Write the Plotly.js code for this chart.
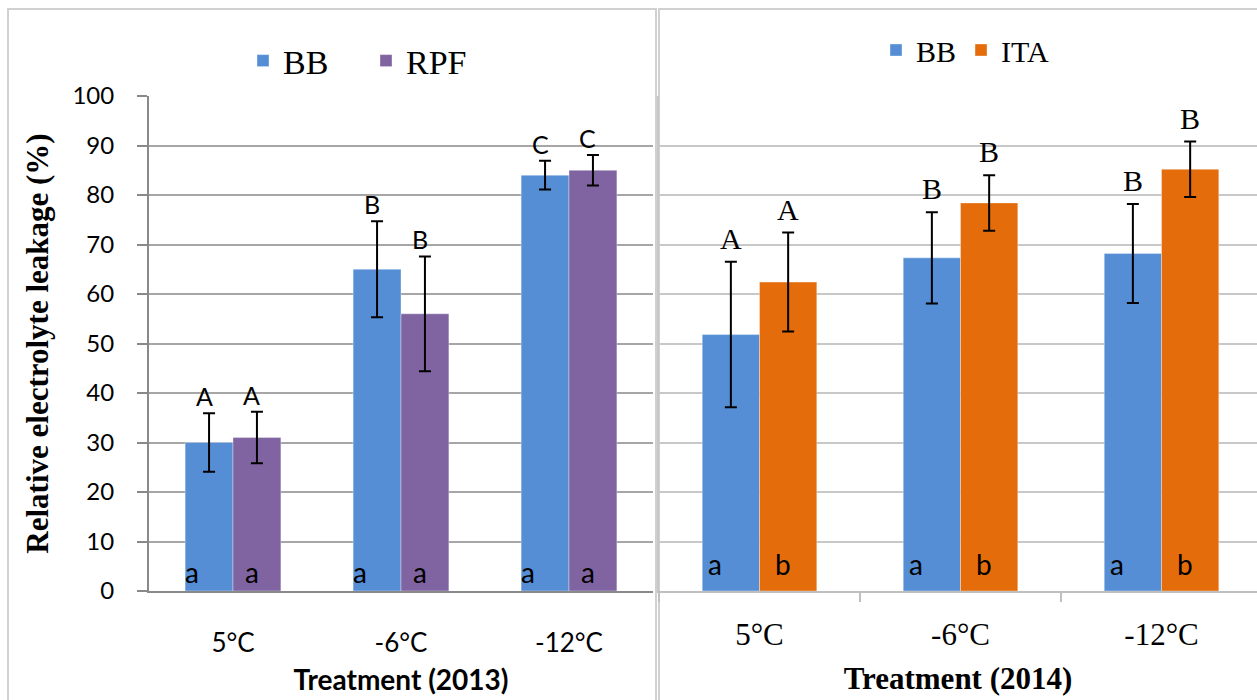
<!DOCTYPE html>
<html><head><meta charset="utf-8">
<script src="https://cdn.plot.ly/plotly-3.0.1.min.js"></script>
<style>html,body{margin:0;padding:0;background:#fff}#chart{width:1257px;height:700px}</style>
</head><body><div id="chart"></div>
<script>
// ---- data ----
const treatments = ['5°C', '-6°C', '-12°C'];
const bb2013 = [30.0, 65.0, 84.0];
const bb2013Err = [5.9, 9.7, 2.9];
const rpf2013 = [31.0, 56.0, 85.0];
const rpf2013Err = [5.2, 11.6, 3.1];
const bb2014 = [51.8, 67.3, 68.2];
const bb2014Err = [14.7, 9.2, 10.0];
const ita2014 = [62.4, 78.4, 85.2];
const ita2014Err = [10.0, 5.6, 5.6];
const upper2013BB = ['A', 'B', 'C'];
const upper2013RPF = ['A', 'B', 'C'];
const lower2013BB = ['a', 'a', 'a'];
const lower2013RPF = ['a', 'a', 'a'];
const upper2014BB = ['A', 'B', 'B'];
const upper2014ITA = ['A', 'B', 'B'];
const lower2014BB = ['a', 'a', 'a'];
const lower2014ITA = ['b', 'b', 'b'];

// ---- styles ----
const W = 1257, H = 700;
const BLUE = '#558ED5', PURPLE = '#8064A2', ORANGE = '#E46C0A';
const SANS = 'Lato, "Open Sans", sans-serif';
const SERIF = '"Liberation Serif", "Times New Roman", serif';
const BARGAP = 0.43;
const OFF = (1 - BARGAP) / 4;

function errStyle(arr) {
  return {type: 'data', array: arr, visible: true, color: '#000', thickness: 2, width: 6};
}
const lineBar = {color: 'rgba(255,255,255,0.35)', width: 1};

const traces = [
  {type: 'bar', name: 'BB', x: treatments, y: bb2013, error_y: errStyle(bb2013Err),
   marker: {color: BLUE, line: lineBar}, xaxis: 'x', yaxis: 'y', legend: 'legend'},
  {type: 'bar', name: 'RPF', x: treatments, y: rpf2013, error_y: errStyle(rpf2013Err),
   marker: {color: PURPLE, line: lineBar}, xaxis: 'x', yaxis: 'y', legend: 'legend'},
  {type: 'bar', name: 'BB', x: treatments, y: bb2014, error_y: errStyle(bb2014Err),
   marker: {color: BLUE, line: lineBar}, xaxis: 'x2', yaxis: 'y2', legend: 'legend2'},
  {type: 'bar', name: 'ITA', x: treatments, y: ita2014, error_y: errStyle(ita2014Err),
   marker: {color: ORANGE, line: lineBar}, xaxis: 'x2', yaxis: 'y2', legend: 'legend2'}
];

const annotations = [];
function addLetters(labels, vals, errs, sign, xref, yref, opts) {
  labels.forEach((t, i) => {
    annotations.push({
      xref: xref, yref: yref, x: i + sign * OFF, y: (vals ? vals[i] + errs[i] : 0),
      text: t, showarrow: false, xanchor: 'center', yanchor: opts.yanchor,
      xshift: opts.xshift, yshift: opts.yshift,
      font: {family: opts.family, size: opts.size, color: '#000'}
    });
  });
}
// 2013 panel
addLetters(upper2013BB, bb2013, bb2013Err, -1, 'x', 'y', {family: SANS, size: 25, yanchor: 'bottom', xshift: -5, yshift: 0});
addLetters(upper2013RPF, rpf2013, rpf2013Err, 1, 'x', 'y', {family: SANS, size: 25, yanchor: 'bottom', xshift: -5, yshift: 0});
addLetters(lower2013BB, null, null, -1, 'x', 'y', {family: SANS, size: 28, yanchor: 'middle', xshift: -17, yshift: 19});
addLetters(lower2013RPF, null, null, 1, 'x', 'y', {family: SANS, size: 28, yanchor: 'middle', xshift: -5, yshift: 19});
// 2014 panel
addLetters(upper2014BB, bb2014, bb2014Err, -1, 'x2', 'y2', {family: SERIF, size: 30, yanchor: 'bottom', xshift: 0, yshift: 5});
addLetters(upper2014ITA, ita2014, ita2014Err, 1, 'x2', 'y2', {family: SERIF, size: 30, yanchor: 'bottom', xshift: 0, yshift: 5});
addLetters(lower2014BB, null, null, -1, 'x2', 'y2', {family: SANS, size: 28, yanchor: 'middle', xshift: -16, yshift: 27});
addLetters(lower2014ITA, null, null, 1, 'x2', 'y2', {family: SANS, size: 28, yanchor: 'middle', xshift: -5, yshift: 27});

const yDomain = [(H - 591) / H, (H - 96) / H];

const layout = {
  width: W, height: H, autosize: false,
  margin: {l: 0, r: 0, t: 0, b: 0},
  paper_bgcolor: '#fff', plot_bgcolor: 'rgba(0,0,0,0)',
  barmode: 'group', bargap: BARGAP, bargroupgap: 0,
  xaxis: {
    domain: [149 / W, 653 / W], anchor: 'y', type: 'category', range: [-0.5, 2.5],
    showline: true, linecolor: '#898989', linewidth: 2, ticks: '', showgrid: false, zeroline: false,
    tickfont: {family: SANS, size: 26, color: '#000'}, ticklabelstandoff: 28,
    title: {text: 'Treatment (2013)', font: {family: SANS, size: 28, color: '#000', weight: 'bold'}, standoff: 13},
    automargin: false, fixedrange: true
  },
  yaxis: {
    domain: yDomain, anchor: 'x', range: [0, 100], dtick: 10, tick0: 0,
    showgrid: true, gridcolor: '#a6a6a6', gridwidth: 2, zeroline: false,
    showline: true, linecolor: '#898989', linewidth: 2,
    ticks: 'outside', ticklen: 10, tickwidth: 2, tickcolor: '#898989',
    tickfont: {family: SANS, size: 24, color: '#000'}, ticklabelstandoff: 18,
    title: {text: 'Relative electrolyte leakage (%)', font: {family: SERIF, size: 31, color: '#000', weight: 'bold'}, standoff: 15},
    automargin: false, fixedrange: true
  },
  xaxis2: {
    domain: [659 / W, 1], anchor: 'y2', type: 'category', range: [-0.5, 2.475],
    showline: true, linecolor: '#bfbfbf', linewidth: 2,
    ticks: 'outside', tickson: 'boundaries', ticklen: 9, tickwidth: 2, tickcolor: '#bfbfbf',
    showgrid: false, zeroline: false,
    tickfont: {family: SERIF, size: 31, color: '#000'}, ticklabelstandoff: 15,
    title: {text: 'Treatment (2014)', font: {family: SERIF, size: 31, color: '#000', weight: 'bold'}, standoff: 16},
    automargin: false, fixedrange: true
  },
  yaxis2: {
    domain: yDomain, anchor: 'x2', range: [0, 100], dtick: 10, tick0: 0,
    showgrid: true, gridcolor: '#c8c8c8', gridwidth: 2, zeroline: false,
    showline: true, linecolor: '#c8c8c8', linewidth: 2, ticks: '', showticklabels: false,
    automargin: false, fixedrange: true
  },
  legend: {
    orientation: 'h', x: 243 / W, xanchor: 'left', y: (H - 61) / H, yanchor: 'middle',
    font: {family: SERIF, size: 34, color: '#000'}, entrywidth: 78, bgcolor: 'rgba(0,0,0,0)'
  },
  legend2: {
    orientation: 'h', x: 876 / W, xanchor: 'left', y: (H - 50) / H, yanchor: 'middle',
    font: {family: SERIF, size: 30, color: '#000'}, bgcolor: 'rgba(0,0,0,0)'
  },
  annotations: annotations,
  shapes: [
    {type: 'rect', xref: 'paper', yref: 'paper', x0: 8 / W, x1: 656 / W, y0: -0.05, y1: (H - 9) / H,
     line: {color: '#d0d0d0', width: 2}, fillcolor: 'rgba(0,0,0,0)', layer: 'below'},
    {type: 'rect', xref: 'paper', yref: 'paper', x0: 659 / W, x1: 1.05, y0: -0.05, y1: (H - 9) / H,
     line: {color: '#d0d0d0', width: 2}, fillcolor: 'rgba(0,0,0,0)', layer: 'below'}
  ]
};

Plotly.newPlot('chart', traces, layout, {displayModeBar: false, staticPlot: true});
</script>
</body></html>
